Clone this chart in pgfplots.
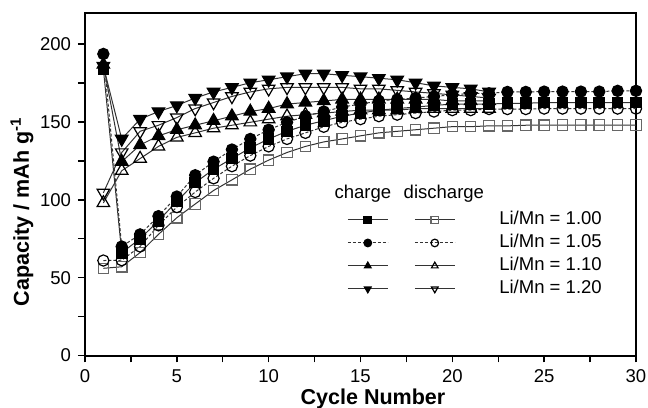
\documentclass[border=0pt]{standalone}
\usepackage{pgfplots}
\pgfplotsset{compat=1.18}
\usepackage{fontspec}
\setmainfont{Liberation Sans}

% Data (cycle, capacity)
\pgfplotstableread{
x y
1 184
2 66
3 75
4 86.5
5 99
6 111
7 119.6
8 126.5
9 133.3
10 139.1
11 144
12 147.9
13 150.8
14 153.7
15 155.7
16 157.6
17 158.6
18 159.6
19 160.6
20 161.5
21 161.5
22 161.5
23 162
24 162
25 162.5
26 162.5
27 162.5
28 162.5
29 162.5
30 162.5
}\chgA
\pgfplotstableread{
x y
1 56
2 57
3 66.1
4 77.8
5 88.5
6 97.3
7 106
8 112.8
9 119.7
10 125.5
11 130.4
12 134.3
13 137.2
14 139.1
15 141.1
16 143
17 144
18 145
19 146
20 147
21 147
22 147.5
23 147.5
24 147.9
25 147.9
26 148
27 148
28 148
29 148
30 148
}\disA
\pgfplotstableread{
x y
1 193.7
2 70
3 77.8
4 89.5
5 102.1
6 115.8
7 124.5
8 132.3
9 139.1
10 145
11 149.8
12 153.7
13 156.7
14 159.6
15 161.5
16 163.5
17 164.5
18 165.4
19 166.4
20 167.4
21 168.4
22 168.4
23 169.3
24 169.3
25 169.5
26 169.5
27 169.5
28 169.5
29 170
30 170
}\chgB
\pgfplotstableread{
x y
1 61
2 61.2
3 70
4 83.6
5 95.3
6 105
7 113.8
8 121.6
9 128.4
10 134.3
11 139.1
12 143
13 146.9
14 149.8
15 151.8
16 153.7
17 154.7
18 155.7
19 156.7
20 157.6
21 157.6
22 158.3
23 158.3
24 158.3
25 158.6
26 158.6
27 158.6
28 158.6
29 158.6
30 158.6
}\disB
\pgfplotstableread{
x y
1 186.9
2 124.5
3 135.2
4 141.1
5 145
6 147.9
7 150.8
8 153.7
9 156.7
10 158.6
11 161.5
12 162.5
13 163.5
14 164.5
15 164.5
16 164.5
17 164.5
18 164.5
19 164.5
20 163.5
21 163.5
22 163.5
}\chgC
\pgfplotstableread{
x y
1 98
2 118.7
3 126.5
4 134.3
5 140.1
6 143
7 146
8 147.9
9 149.8
10 151.8
11 153.7
12 154.7
13 155.7
14 156.7
15 157.6
16 157.6
17 157.6
18 158.6
19 158.6
20 158.6
21 158.6
22 158.6
}\disC
\pgfplotstableread{
x y
1 185.9
2 139.1
3 151.8
4 156.7
5 160.6
6 165.4
7 169.3
8 172.2
9 175.2
10 177.1
11 179.1
12 181
13 181
14 180
15 179.1
16 178.1
17 177.1
18 175.2
19 173.2
20 172.2
21 171.3
22 169.3
}\chgD
\pgfplotstableread{
x y
1 104.5
2 130.4
3 144
4 147.9
5 152.8
6 158.6
7 162.5
8 166.4
9 169.3
10 171.3
11 172.2
12 172.2
13 172.2
14 172.2
15 171.3
16 171.3
17 170.3
18 169.3
19 168.4
20 167.4
21 166.4
22 165.4
}\disD

\begin{document}
\begin{tikzpicture}
\begin{axis}[
  name=ax,
  scale only axis,
  width=275.5bp, height=171.25bp,
  xmin=0, xmax=30, ymin=0, ymax=220,
  xtick={0,5,...,30}, ytick={0,50,...,200},
  minor x tick num=1, minor y tick num=1,
  tick pos=left, tick align=outside,
  major tick length=3.5bp, minor tick length=3.5bp,
  every tick/.style={black, line width=0.7bp},
  axis line style={line width=1bp},
  /pgf/number format/assume math mode=true,
  tick label style={font=\fontsize{9.3}{10}\selectfont},
  xlabel={Cycle Number},
  ylabel={Capacity / mAh g\textsuperscript{-1}},
  every axis x label/.style={at={(axis description cs:0.5227,-0.1255)}, anchor=center,
     font=\fontsize{10.8}{12}\selectfont\bfseries},
  every axis y label/.style={at={(axis description cs:-0.1143,0.42)}, anchor=center, rotate=90,
     font=\fontsize{10.8}{12}\selectfont\bfseries},
  every axis plot/.append style={line width=0.5bp, color=black!80},
  legend image code/.code={\draw[mark repeat=2,mark phase=2,#1,mark size=1.9bp]
     plot coordinates {(0bp,0bp)(10bp,0bp)(20bp,0bp)};},
  legend columns=2,
  legend style={at={(axis cs:14.26,94.7)}, anchor=north west, draw=none, fill=none,
     inner sep=0pt, row sep=0pt,
     font=\fontsize{9.3}{10}\selectfont,
     nodes={inner xsep=0bp, inner ysep=1.25bp, text height=7bp, text depth=2bp},
     /tikz/column 2/.style={column sep=12bp},
     /tikz/column 3/.style={column sep=22bp}},
  legend cell align=left,
]
\addplot[mark=square*, mark size=2.6bp, mark options={solid, line width=0.6bp, fill=black, draw=black}] table {\chgA};
\addlegendentry{}
\addplot[mark=square, mark size=2.6bp, mark options={solid, line width=0.6bp, fill=white, draw=black!60}] table {\disA};
\addlegendentry{Li/Mn = 1.00}
\addplot[dash pattern=on 1.5bp off 1bp, mark=*, mark size=2.8bp, mark options={solid, line width=0.6bp, fill=black, draw=black}] table {\chgB};
\addlegendentry{}
\addplot[dash pattern=on 1.5bp off 1bp, mark=o, mark size=2.8bp, mark options={solid, line width=0.6bp, fill=white, draw=black}] table {\disB};
\addlegendentry{Li/Mn = 1.05}
\addplot[mark=triangle*, mark size=3.6bp, mark options={solid, line width=0.6bp, fill=black, draw=black}] table {\chgC};
\addlegendentry{}
\addplot[mark=triangle, mark size=3.6bp, mark options={solid, line width=0.6bp, fill=white, draw=black}] table {\disC};
\addlegendentry{Li/Mn = 1.10}
\addplot[mark=triangle*, mark size=3.6bp, mark options={solid, line width=0.6bp, fill=black, draw=black, rotate=180}] table {\chgD};
\addlegendentry{}
\addplot[mark=triangle, mark size=3.6bp, mark options={solid, line width=0.6bp, fill=white, draw=black, rotate=180}] table {\disD};
\addlegendentry{Li/Mn = 1.20}
\node[font=\fontsize{9.3}{10}\selectfont] at (axis cs:15.13,103.7) {charge};
\node[font=\fontsize{9.3}{10}\selectfont] at (axis cs:19.54,103.7) {discharge};
\end{axis}
\pgfresetboundingbox
\path[use as bounding box] ([xshift=-42.5bp,yshift=-26.25bp]ax.south west) rectangle ([xshift=6bp,yshift=6.5bp]ax.north east);
\end{tikzpicture}
\end{document}
